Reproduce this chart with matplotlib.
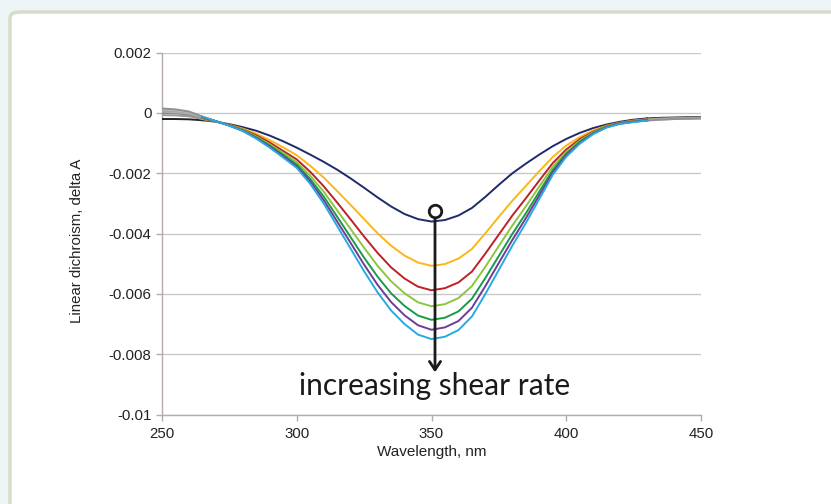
import numpy as np
import matplotlib
matplotlib.use("Agg")
import matplotlib.pyplot as plt
from matplotlib.patches import FancyBboxPatch

# wavelength grid (nm) and linear dichroism traces, values in units of 1e-3
wavelength = list(range(250, 451, 5))

ld_navy = [-0.20, -0.20, -0.21, -0.24, -0.29, -0.37, -0.47, -0.59, -0.75, -0.94,
           -1.15, -1.38, -1.62, -1.88, -2.17, -2.48, -2.80, -3.10, -3.35, -3.52,
           -3.60, -3.55, -3.40, -3.15, -2.78, -2.38, -2.00, -1.68, -1.38, -1.10,
           -0.86, -0.66, -0.50, -0.38, -0.29, -0.22, -0.18, -0.16, -0.15, -0.14, -0.14]
ld_yellow = [-0.07, -0.08, -0.11, -0.20, -0.28, -0.39, -0.52, -0.69, -0.90, -1.14,
             -1.40, -1.75, -2.14, -2.59, -3.05, -3.52, -3.99, -4.40, -4.73, -4.96,
             -5.07, -5.01, -4.83, -4.51, -3.99, -3.44, -2.91, -2.42, -1.93, -1.46,
             -1.08, -0.80, -0.58, -0.42, -0.32, -0.25, -0.21, -0.18, -0.17, -0.16, -0.16]
ld_red = [0.00, -0.01, -0.06, -0.17, -0.28, -0.40, -0.55, -0.74, -0.98, -1.26,
          -1.54, -1.95, -2.43, -2.97, -3.53, -4.10, -4.64, -5.12, -5.49, -5.76,
          -5.88, -5.81, -5.62, -5.26, -4.66, -4.03, -3.40, -2.83, -2.24, -1.66,
          -1.21, -0.87, -0.62, -0.44, -0.33, -0.27, -0.22, -0.20, -0.18, -0.17, -0.16]
ld_lightgreen = [0.05, 0.03, -0.02, -0.15, -0.28, -0.41, -0.56, -0.78, -1.04, -1.33,
                 -1.63, -2.08, -2.61, -3.23, -3.85, -4.47, -5.07, -5.58, -5.98, -6.28,
                 -6.41, -6.34, -6.14, -5.74, -5.10, -4.41, -3.73, -3.10, -2.44, -1.78,
                 -1.29, -0.92, -0.64, -0.45, -0.34, -0.28, -0.23, -0.20, -0.19, -0.18, -0.17]
ld_green = [0.09, 0.07, 0.01, -0.14, -0.27, -0.41, -0.58, -0.81, -1.08, -1.39,
            -1.71, -2.19, -2.77, -3.44, -4.12, -4.80, -5.43, -5.98, -6.40, -6.72,
            -6.86, -6.79, -6.58, -6.16, -5.47, -4.74, -4.01, -3.33, -2.61, -1.89,
            -1.35, -0.96, -0.67, -0.46, -0.35, -0.29, -0.24, -0.21, -0.19, -0.18, -0.17]
ld_purple = [0.12, 0.09, 0.03, -0.13, -0.27, -0.42, -0.59, -0.83, -1.12, -1.44,
             -1.77, -2.27, -2.89, -3.60, -4.31, -5.03, -5.70, -6.27, -6.71, -7.04,
             -7.19, -7.11, -6.90, -6.46, -5.74, -4.97, -4.21, -3.49, -2.73, -1.97,
             -1.40, -0.99, -0.68, -0.47, -0.35, -0.29, -0.24, -0.22, -0.20, -0.19, -0.18]
ld_lightblue = [0.15, 0.12, 0.05, -0.12, -0.27, -0.42, -0.60, -0.85, -1.15, -1.48,
                -1.82, -2.35, -3.00, -3.75, -4.50, -5.25, -5.95, -6.55, -7.00, -7.35,
                -7.50, -7.42, -7.20, -6.75, -6.00, -5.20, -4.40, -3.65, -2.85, -2.05,
                -1.45, -1.02, -0.70, -0.48, -0.36, -0.30, -0.25, -0.22, -0.20, -0.19, -0.18]

traces = [ld_navy, ld_yellow, ld_red, ld_lightgreen, ld_green, ld_purple, ld_lightblue]
colors = ["#1d2b6b", "#fbb717", "#be2026", "#8cc63f", "#1a9a48", "#6e3c96", "#27aae1"]
end_grays = ["#222222", "#9a9a9a", "#8a8a8a", "#b0b0b0", "#a0a0a0", "#bdbdbd", "#909090"]

y_ticks = [0.002, 0, -0.002, -0.004, -0.006, -0.008, -0.01]
y_tick_labels = ["0.002", "0", "-0.002", "-0.004", "-0.006", "-0.008", "-0.01"]
x_ticks = [250, 300, 350, 400, 450]

fig = plt.figure(figsize=(8.31, 5.04), dpi=100)
fig.patch.set_facecolor("#eef5f7")

# white card behind the chart
W, H = 831, 504
card = FancyBboxPatch((10 / W, -20 / H), 840 / W, (504 - 12 + 20) / H,
                      boxstyle="round,pad=0,rounding_size=0.012",
                      transform=fig.transFigure, facecolor="white",
                      edgecolor="#d6dcc9", linewidth=2.5, zorder=-5)
fig.patches.append(card)

ax = fig.add_axes([162 / W, 1 - 414.5 / H, (701 - 162) / W, (414.5 - 52.7) / H])
ax.set_zorder(2)
ax.set_facecolor("white")

wl = np.array(wavelength)
lo, hi = 3, 36   # colored between 265 nm and 430 nm, gray at the ends
for vals, c, g in zip(traces, colors, end_grays):
    v = np.array(vals) * 1e-3
    ax.plot(wl[:lo + 1], v[:lo + 1], color=g, lw=1.4, zorder=3)
    ax.plot(wl[hi:], v[hi:], color=g, lw=1.4, zorder=3)
    ax.plot(wl[lo:hi + 1], v[lo:hi + 1], color=c, lw=1.4, zorder=4)

ax.set_xlim(250, 450)
ax.set_ylim(-0.01, 0.002)
ax.set_xticks(x_ticks)
ax.set_yticks(y_ticks)
ax.set_yticklabels(y_tick_labels)
ax.grid(axis="y", color="#c9c9c9", lw=1.0)
ax.set_axisbelow(True)
for s in ["top", "right"]:
    ax.spines[s].set_visible(False)
for s in ["left", "bottom"]:
    ax.spines[s].set_color("#b5aca8")
    ax.spines[s].set_linewidth(1.0)
ax.tick_params(colors="#b5aca8", length=4, width=1.0, labelcolor="#222222",
               labelsize=10.8)
ax.tick_params(axis="x", pad=5)
for lab in ax.get_xticklabels() + ax.get_yticklabels():
    lab.set_fontfamily("Liberation Sans")

ax.set_xlabel("Wavelength, nm", fontsize=11, family="Liberation Sans",
              color="#222222")
ax.set_ylabel("Linear dichroism, delta A", fontsize=10.8, family="Liberation Sans",
              color="#222222")
ax.xaxis.set_label_coords((432 - 162) / 539, (414.5 - 445) / 361.8)
ax.yaxis.set_label_coords((84 - 162) / 539, 1 - (241 - 52.7) / 361.8)

# annotation: arrow with open circle
ax.annotate("", xy=(351.3, -0.0086), xytext=(351.3, -0.00325),
            arrowprops=dict(arrowstyle="->,head_length=0.6,head_width=0.4",
                            color="#1a1a1a", lw=2.0, shrinkA=3, shrinkB=0),
            zorder=6)
ax.plot([351.3], [-0.00325], marker="o", ms=9, mfc="white", mec="#1a1a1a",
        mew=2.0, zorder=7)
ax.text(351, -0.00905, "increasing shear rate", ha="center", va="center",
        fontsize=21.5, family="Lato", color="#1a1a1a", zorder=7)

fig.savefig("out.png", dpi=100, facecolor=fig.get_facecolor())
